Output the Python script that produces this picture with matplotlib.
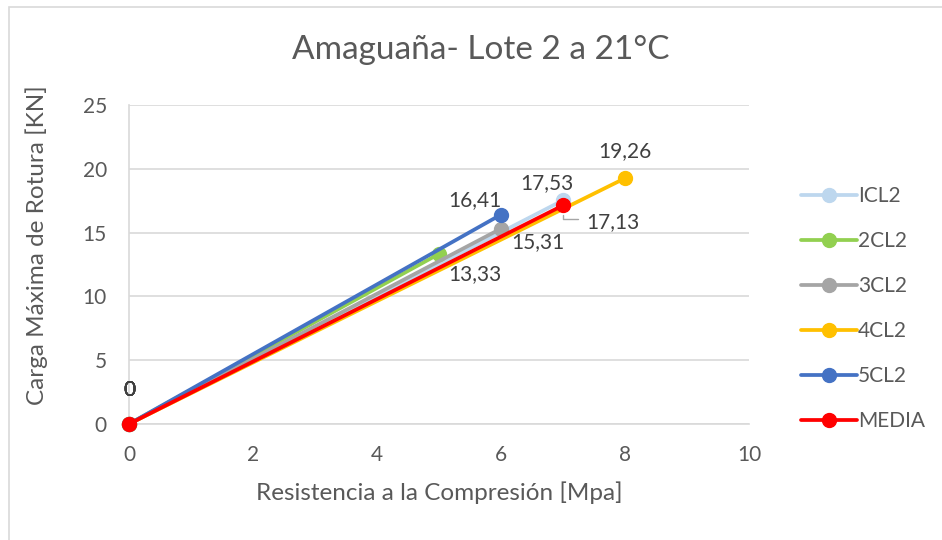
import matplotlib.pyplot as plt
from matplotlib.patches import Rectangle

# Series: each line goes from the origin to one end point
series = ['ICL2', '2CL2', '3CL2', '4CL2', '5CL2', 'MEDIA']
x_end = [7, 5, 6, 8, 6, 7]
y_end = [17.53, 13.33, 15.31, 19.26, 16.41, 17.13]
end_labels = ['17,53', '13,33', '15,31', '19,26', '16,41', '17,13']
colors = ['#BDD7EE', '#92D050', '#A5A5A5', '#FFC000', '#4472C4', '#FF0000']

# label offsets (pixels) for the end point labels
offsets = [(-16, 17), (36, -20), (37, -13), (0, 27), (-26, 15), (50, -17)]

title = 'Amaguaña- Lote 2 a 21°C'
xlabel = 'Resistencia a la Compresión [Mpa]'
ylabel = 'Carga Máxima de Rotura [KN]'

plt.rcParams['font.family'] = ['Lato', 'DejaVu Sans']
txt_col = '#595959'

fig = plt.figure(figsize=(9.42, 5.4), dpi=100)
ax = fig.add_axes([129 / 942, 116 / 540, 620 / 942, 319 / 540])

# chart border
fig.patches.append(Rectangle((8.5 / 942, -0.05), 1.0, 1.0 - 6.5 / 540 + 0.05,
                             transform=fig.transFigure, fill=False,
                             edgecolor='#D9D9D9', lw=1.2))

for i, name in enumerate(series):
    ax.plot([0, x_end[i]], [0, y_end[i]], color=colors[i], lw=2.7,
            marker='o', ms=10, label=name, solid_capstyle='round',
            zorder=3 + i, clip_on=False)
    ax.annotate('0', (0, 0), xytext=(0, 34), textcoords='offset pixels',
                ha='center', va='center', fontsize=15, color='#404040')
    dx, dy = offsets[i]
    ax.annotate(end_labels[i], (x_end[i], y_end[i]), xytext=(dx, dy),
                textcoords='offset pixels', ha='center', va='center',
                fontsize=15, color='#404040')

# leader line for the MEDIA label
ax.annotate('', (7, 17.13), xytext=(578, 540 - 219), textcoords='figure pixels',
            arrowprops=dict(arrowstyle='-', color='#A5A5A5', lw=1,
                            connectionstyle='angle,angleA=0,angleB=90,rad=0',
                            shrinkA=0, shrinkB=7))

ax.set_xlim(0, 10)
ax.set_ylim(0, 25)
ax.set_xticks(range(0, 11, 2))
ax.set_yticks(range(0, 26, 5))
ax.grid(axis='y', color='#D9D9D9', lw=1.2, zorder=0)
for s in ['top', 'right']:
    ax.spines[s].set_visible(False)
for s in ['left', 'bottom']:
    ax.spines[s].set_color('#D9D9D9')
    ax.spines[s].set_linewidth(1.2)
ax.tick_params(length=0, labelsize=15, labelcolor=txt_col)
ax.tick_params(axis='x', pad=15)
ax.tick_params(axis='y', pad=16)

fig.text(481 / 942, 1 - 50 / 540, title, fontsize=24, color=txt_col,
         ha='center', va='center')
ax.set_xlabel(xlabel, fontsize=17.5, color=txt_col, labelpad=12)
fig.text(37 / 942, 1 - 245 / 540, ylabel, fontsize=17.5, color=txt_col,
         ha='center', va='center', rotation=90)

fig.legend(loc='center left', bbox_to_anchor=(782 / 942, 1 - 308.5 / 540),
           frameon=False, fontsize=15, labelspacing=1.2, handlelength=2.7,
           handletextpad=0.05, labelcolor=txt_col)

fig.savefig('out.png', dpi=100)
